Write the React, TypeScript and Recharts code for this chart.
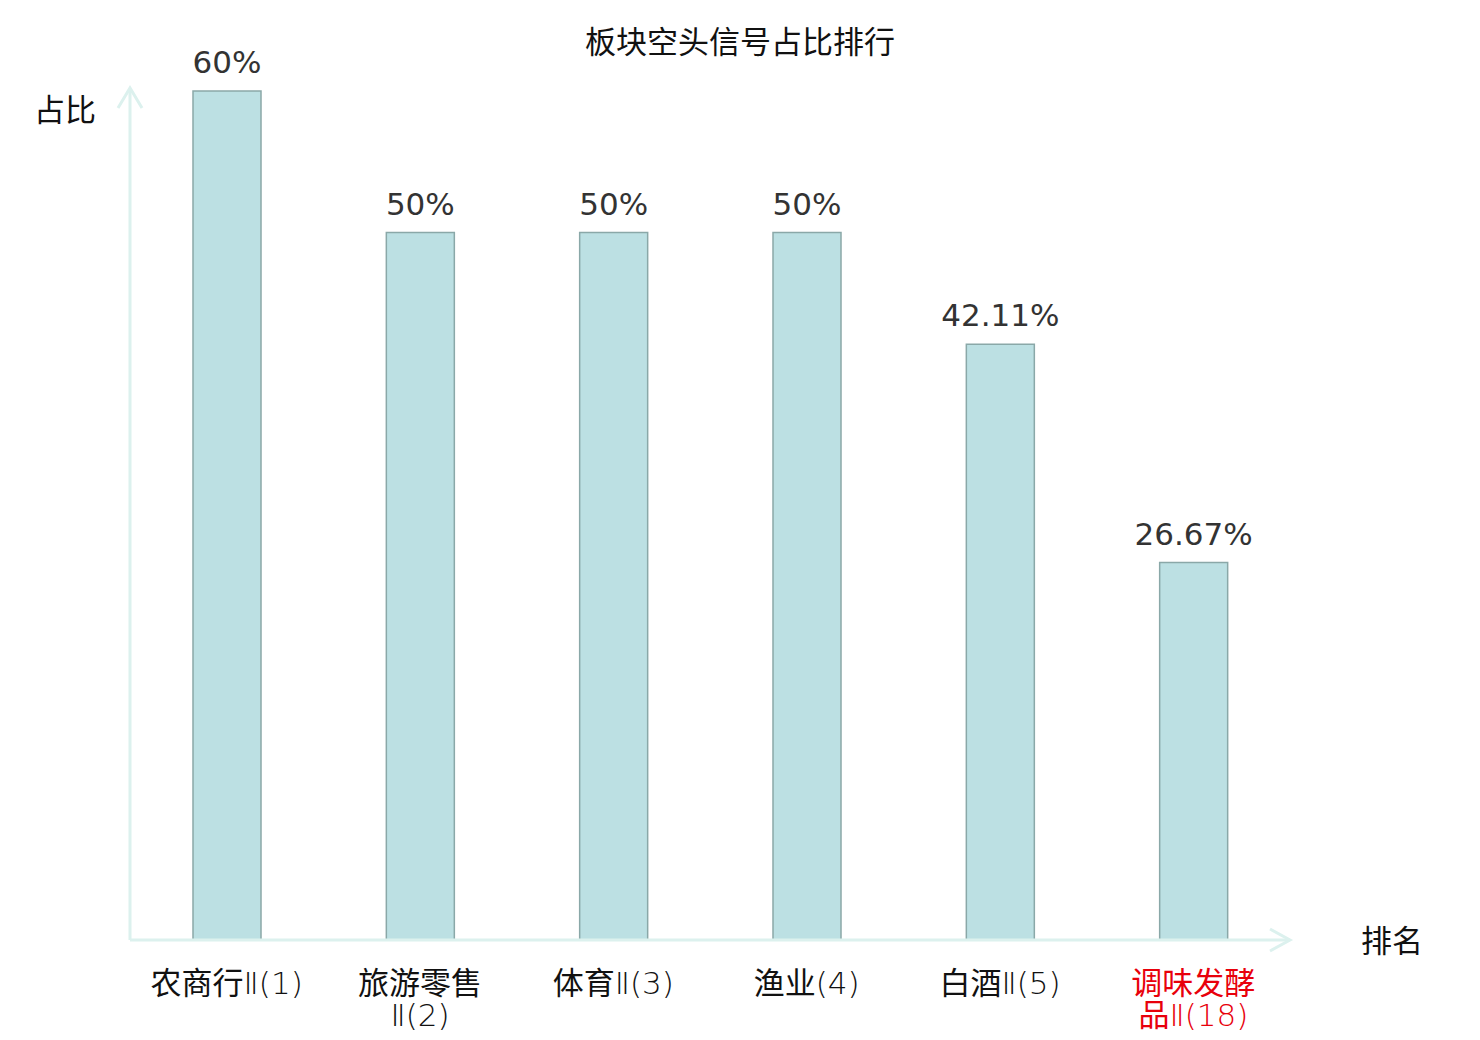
import React from "react";
import { BarChart, Bar, XAxis, YAxis, LabelList, Label } from "recharts";

const categories = ["农商行Ⅱ(1)", "旅游零售Ⅱ(2)", "体育Ⅱ(3)", "渔业(4)", "白酒Ⅱ(5)", "调味发酵品Ⅱ(18)"];
const ratios = [60, 50, 50, 50, 42.11, 26.67];
const highlighted = ["调味发酵品Ⅱ(18)"];

const data = categories.map((name, i) => ({ name, value: ratios[i] }));

const FONT = '"DejaVu Sans", "Noto Sans CJK SC", sans-serif';
const AXIS_COLOR = "#dcf1ee";
const FS = 31;

const fmt = (v: number) => `${Number.isInteger(v) ? v : v.toFixed(2)}%`;

const wrap = (s: string): string[] => (s.length > 7 ? [s.slice(0, 4), s.slice(4)] : [s]);

const isCJK = (ch: string) => /[\u4e00-\u9fff]/.test(ch);

const splitRuns = (s: string) => {
  const runs: { text: string; cjk: boolean }[] = [];
  for (const ch of s) {
    const c = isCJK(ch);
    if (runs.length && runs[runs.length - 1].cjk === c) runs[runs.length - 1].text += ch;
    else runs.push({ text: ch, cjk: c });
  }
  return runs;
};

const CategoryTick = (props: any) => {
  const { x, y, payload } = props;
  const lines = wrap(payload.value);
  const color = highlighted.includes(payload.value) ? "#e8000b" : "#111";
  return (
    <g>
      {lines.map((ln, i) => (
        <text
          key={i}
          x={x}
          y={y + 46 + i * 32}
          textAnchor="middle"
          fontSize={FS}
          fontFamily={FONT}
          fill={color}
        >
          {splitRuns(ln).map((r, j) =>
            r.cjk ? (
              <tspan key={j}>{r.text}</tspan>
            ) : (
              <tspan key={j} fontWeight={200}>
                {r.text}
              </tspan>
            )
          )}
        </text>
      ))}
    </g>
  );
};

const XArrow = (props: any) => {
  const { viewBox } = props;
  const { x, y, width } = viewBox;
  const tx = x + width;
  return (
    <g>
      <polyline
        points={`${tx - 20},${y - 11} ${tx},${y} ${tx - 20},${y + 11}`}
        fill="none"
        stroke={AXIS_COLOR}
        strokeWidth={3}
      />
      <text x={tx + 71} y={y + 12} fontSize={FS} fontFamily={FONT} fill="#111">
        排名
      </text>
    </g>
  );
};

const YArrow = (props: any) => {
  const { viewBox } = props;
  const x = viewBox.x + viewBox.width;
  const y = viewBox.y;
  const ty = y - 3;
  return (
    <g>
      <line x1={x} y1={y} x2={x} y2={ty} stroke={AXIS_COLOR} strokeWidth={3} />
      <polyline
        points={`${x - 12},${ty + 20} ${x},${ty} ${x + 12},${ty + 20}`}
        fill="none"
        stroke={AXIS_COLOR}
        strokeWidth={3}
      />
      <text x={x - 96} y={ty + 33} fontSize={FS} fontFamily={FONT} fill="#111">
        占比
      </text>
    </g>
  );
};

export default function App() {
  return (
    <div style={{ position: "absolute", left: 0, top: 0, width: 1480, height: 1040, background: "#fff" }}>
      <svg width={1480} height={1040} style={{ position: "absolute", left: 0, top: 0 }}>
        <text x={740} y={53} textAnchor="middle" fontSize={FS} fontFamily={FONT} fill="#111">
          板块空头信号占比排行
        </text>
      </svg>
      <div style={{ position: "absolute", left: 0, top: 0 }}>
        <BarChart
          width={1480}
          height={1040}
          data={data}
          margin={{ top: 91, right: 190, left: 129, bottom: 0 }}
          barCategoryGap="0%"
        >
          <XAxis
            dataKey="name"
            height={100}
            axisLine={{ stroke: AXIS_COLOR, strokeWidth: 3 }}
            tickLine={false}
            tick={<CategoryTick />}
            interval={0}
          >
            <Label content={<XArrow />} />
          </XAxis>
          <YAxis
            width={1}
            domain={[0, 60]}
            tick={false}
            tickLine={false}
            axisLine={{ stroke: AXIS_COLOR, strokeWidth: 3 }}
          >
            <Label content={<YArrow />} />
          </YAxis>
          <Bar dataKey="value" fill="#bce0e3" stroke="#8aa8a8" strokeWidth={1.5} barSize={68} isAnimationActive={false}>
            <LabelList
              dataKey="value"
              position="top"
              offset={18}
              formatter={(v: any) => fmt(Number(v))}
              fontSize={FS}
              fontFamily={FONT}
              fill="#333"
            />
          </Bar>
        </BarChart>
      </div>
    </div>
  );
}
